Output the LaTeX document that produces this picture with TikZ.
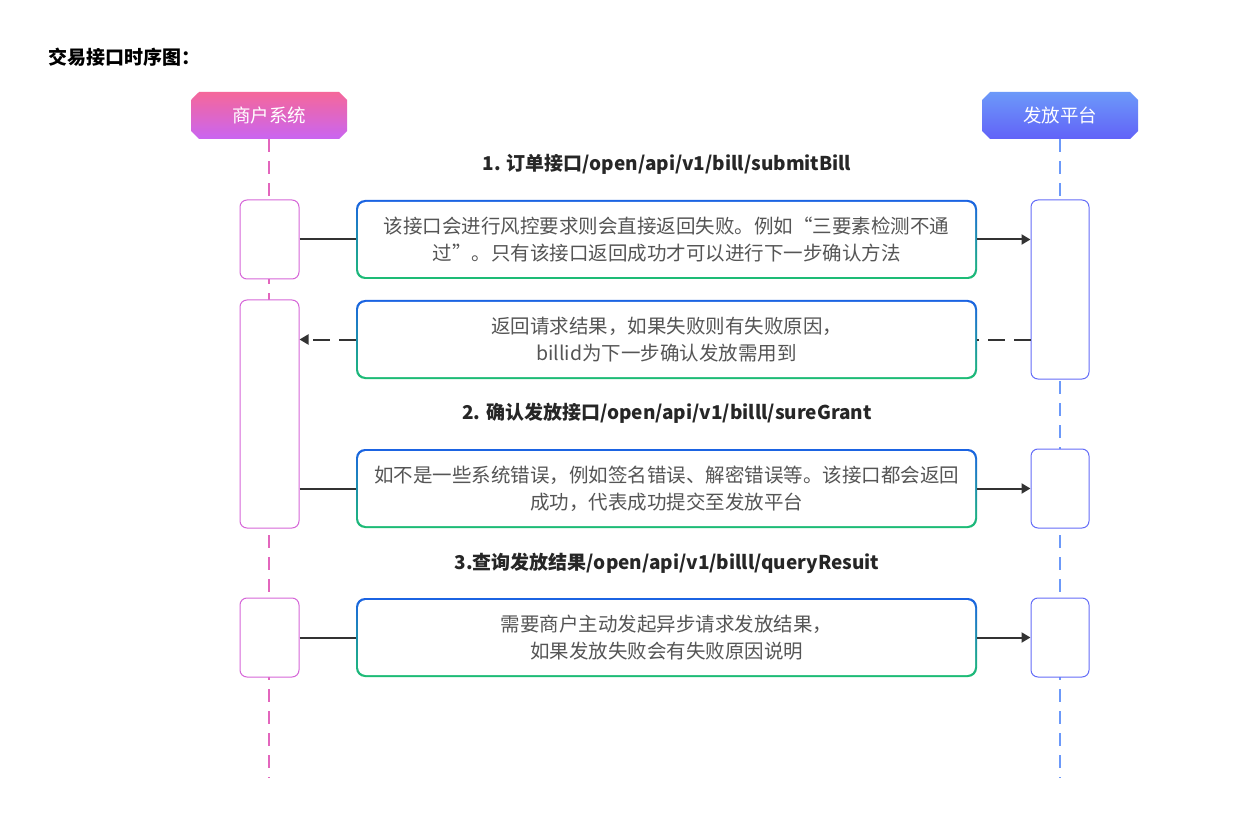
\documentclass[tikz,border=0pt]{standalone}
\usepackage{fontspec}
\setmainfont{Noto Sans CJK SC}
\usetikzlibrary{shapes.misc,arrows.meta}
\definecolor{txt}{HTML}{555555}
\definecolor{pinkA}{HTML}{F5679A}
\definecolor{pinkB}{HTML}{C965F2}
\definecolor{blueA}{HTML}{6C99F9}
\definecolor{blueB}{HTML}{6262F8}
\definecolor{bordA}{HTML}{1B63E3}
\definecolor{bordB}{HTML}{1DBD74}
\begin{document}
\begin{tikzpicture}[x=1pt,y=-1pt,
 head/.style={chamfered rectangle,chamfered rectangle xsep=4pt,chamfered rectangle ysep=4pt,minimum width=156pt,minimum height=47pt,inner sep=0,text=white,font=\fontsize{18.5}{18.5}\selectfont},
 lact/.style={draw=pinkB!70!pinkA,line width=1pt,rounded corners=7pt,minimum width=59pt,fill=white},
 ract/.style={draw=blueB!80!blueA,line width=1pt,rounded corners=7pt,minimum width=58pt,fill=white},
 mout/.style={rounded corners=9pt,top color=bordA,bottom color=bordB,minimum width=621pt,minimum height=79pt,inner sep=0},
 min/.style={rounded corners=8pt,fill=white,minimum width=617pt,minimum height=75pt,inner sep=0,align=center,text=txt,font=\fontsize{19.5}{27}\selectfont},
 lbl/.style={font=\bfseries\fontsize{19}{19}\selectfont,text=black!85},
 conn/.style={line width=2pt,black!80},
 arr/.style={conn,-{Triangle[length=9pt,width=10pt]}},
 lifeL/.style={line width=2pt,pinkA!60!pinkB,dash pattern=on 13pt off 9pt},
 lifeR/.style={line width=2pt,blueA,dash pattern=on 13pt off 9pt}]
\useasboundingbox[fill=white] (0,0) rectangle (1251,837);
\node[anchor=west,font=\bfseries\fontsize{19}{19}\selectfont] (title) at (45,57) {交易接口时序图：};
\node[head,top color=pinkA,bottom color=pinkB] (hl) at (269,115.5) {商户系统};
\node[head,top color=blueA,bottom color=blueB] (hr) at (1060,115.5) {发放平台};
\coordinate (el) at (269,778); \coordinate (er) at (1060,778);
\draw[lifeL] (hl.south) -- (el);
\draw[lifeR] (hr.south) -- (er);
% activations
\node[lact,minimum height=79pt] (l1) at (269.5,239.5) {};
\node[lact,minimum height=228pt] (l2) at (269.5,414) {};
\node[lact,minimum height=79pt] (l3) at (269.5,637.5) {};
\node[ract,minimum height=179pt] (r1) at (1060,289.5) {};
\node[ract,minimum height=79pt] (r2) at (1060,488.5) {};
\node[ract,minimum height=79pt] (r3) at (1060,637.5) {};
% labels
\node[lbl] (t1) at (667,164) {1. 订单接口/open/api/v1/bill/submitBill};
\node[lbl] (t2) at (667,413) {2. 确认发放接口/open/api/v1/billl/sureGrant};
\node[lbl] (t3) at (667,563) {3.查询发放结果/open/api/v1/billl/queryResuit};
% messages
\node[mout] (m1) at (666.5,239.5) {};
\node[min] (m1i) at (m1) {该接口会进行风控要求则会直接返回失败。例如“三要素检测不通\\过”。只有该接口返回成功才可以进行下一步确认方法};
\node[mout] (m2) at (666.5,339.5) {};
\node[min] (m2i) at (m2) {返回请求结果，如果失败则有失败原因，\\billid为下一步确认发放需用到};
\node[mout] (m3) at (666.5,488.5) {};
\node[min] (m3i) at (m3) {如不是一些系统错误，例如签名错误、解密错误等。该接口都会返回\\成功，代表成功提交至发放平台};
\node[mout] (m4) at (666.5,637.5) {};
\node[min] (m4i) at (m4) {需要商户主动发起异步请求发放结果，\\如果发放失败会有失败原因说明};
% connectors
\draw[conn] (l1.east) -- (m1.west);
\draw[arr] (m1.east) -- (r1.west |- m1.east);
\draw[conn,dash pattern=on 17pt off 9pt] (r1.west |- m2.east) -- (m2.east);
\draw[arr,dash pattern=on 17pt off 9pt] (m2.west) -- (l2.east |- m2.west);
\draw[conn] (l2.east |- m3.west) -- (m3.west);
\draw[arr] (m3.east) -- (r2.west);
\draw[conn] (l3.east) -- (m4.west);
\draw[arr] (m4.east) -- (r3.west);
\end{tikzpicture}
\end{document}
